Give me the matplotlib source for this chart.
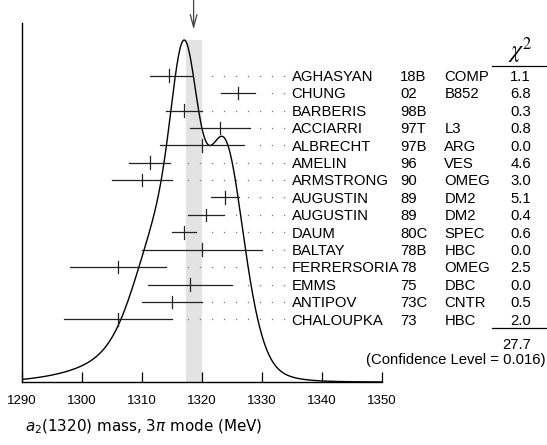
import numpy as np
import matplotlib.pyplot as plt

# a2(1320) mass, 3pi mode measurements
names = ['AGHASYAN', 'CHUNG', 'BARBERIS', 'ACCIARRI', 'ALBRECHT', 'AMELIN',
         'ARMSTRONG', 'AUGUSTIN', 'AUGUSTIN', 'DAUM', 'BALTAY', 'FERRERSORIA',
         'EMMS', 'ANTIPOV', 'CHALOUPKA']
years = ['18B', '02', '98B', '97T', '97B', '96', '90', '89', '89', '80C',
         '78B', '78', '75', '73C', '73']
exps = ['COMP', 'B852', '', 'L3', 'ARG', 'VES', 'OMEG', 'DM2', 'DM2', 'SPEC',
        'HBC', 'OMEG', 'DBC', 'CNTR', 'HBC']
mass = [1314.5, 1326.0, 1317.0, 1323.0, 1320.0, 1311.3, 1310.0, 1323.8,
        1320.6, 1317.0, 1320.0, 1306.0, 1318.0, 1315.0, 1306.0]
err_lo = [3.2, 2.8, 3.0, 5.0, 7.0, 3.4, 5.0, 2.3, 3.0, 2.0, 10.0, 8.0, 7.0, 5.0, 9.0]
err_hi = [3.9, 2.8, 3.0, 5.0, 7.0, 3.4, 5.0, 2.3, 3.0, 2.0, 10.0, 8.0, 7.0, 5.0, 9.0]
chi2 = ['1.1', '6.8', '0.3', '0.8', '0.0', '4.6', '3.0', '5.1', '0.4', '0.6',
        '0.0', '2.5', '0.0', '0.5', '2.0']
chi2_total = '27.7'
conf_level = '0.016'
avg, avg_err = 1318.6, 1.35

mass = np.array(mass)
err_lo = np.array(err_lo)
err_hi = np.array(err_hi)

# ideogram: each measurement a gaussian with area ~ 1/sigma
xs = np.linspace(1290, 1350, 1200)
ideo = np.zeros_like(xs)
for m, lo, hi in zip(mass, err_lo, err_hi):
    s = np.where(xs < m, lo, hi)
    ideo += np.exp(-0.5 * ((xs - m) / s) ** 2) / (0.5 * (lo + hi)) ** 2

W, H = 547, 445
fig = plt.figure(figsize=(W / 100, H / 100), dpi=100)
ax = fig.add_axes([22 / W, (H - 382) / H, 360 / W, 359 / H])
row_px = 17.4
ytop = 359 / row_px
ax.set_xlim(1290, 1350)
ax.set_ylim(0, ytop)
peak = (382 - 40) / row_px

ax.plot(xs, ideo / ideo.max() * peak, color='black', lw=1.0, zorder=3)
ax.fill_between([avg - avg_err, avg + avg_err], 0, peak, color='#e3e3e3', lw=0, zorder=1)

rows = (382 - 75.7) / row_px - np.arange(len(names))
for i, y in enumerate(rows):
    ax.plot([mass[i] - err_lo[i], mass[i] + err_hi[i]], [y, y], color='#222222', lw=0.9, zorder=4)
    ax.plot([mass[i], mass[i]], [y - 0.36, y + 0.36], color='#222222', lw=0.9, zorder=4)
    dots = np.arange(1317.7, 1334.5, 2.0)
    dots = dots[dots > mass[i] + err_hi[i] + 1.4]
    ax.plot(dots, np.full(len(dots), y), ls='none', marker='s', ms=0.9,
            color='#777777', mec='none', clip_on=False, zorder=2)
    tb = y - 5.35 / row_px
    kw = dict(va='baseline', fontsize=10.7, family='Liberation Sans', clip_on=False)
    ax.text(1334.95, tb, names[i], ha='left', **kw)
    ax.text(1353.0, tb, years[i], ha='left', **kw)
    ax.text(1360.4, tb, exps[i], ha='left', **kw)
    ax.text(1374.8, tb, chi2[i], ha='right', **kw)

kw = dict(va='baseline', fontsize=10.7, family='Liberation Sans', clip_on=False)
ax.text(1373.0, (382 - 58) / row_px, r'$\chi^2$', ha='center', fontsize=17,
        math_fontfamily='stix', va='baseline', clip_on=False)
ax.plot([1368.3, 1377.6], [(382 - 65.7) / row_px] * 2, color='black', lw=0.9, clip_on=False)
ax.plot([1368.3, 1377.6], [(382 - 328.3) / row_px] * 2, color='black', lw=0.9, clip_on=False)
ax.text(1374.8, (382 - 348.6) / row_px, chi2_total, ha='right', **kw)
ax.text(1377.3, (382 - 364) / row_px, '(Confidence Level = ' + conf_level + ')', ha='right', **kw)

# arrow marking the average
ax.annotate('', xy=(avg, (382 - 29.5) / row_px), xytext=(avg, (382 + 2) / row_px),
            arrowprops=dict(arrowstyle='->,head_length=0.9,head_width=0.24', mutation_scale=10,
                            shrinkA=0, shrinkB=0, color='#444444', lw=0.9),
            annotation_clip=False)

for side in ['top', 'right']:
    ax.spines[side].set_visible(False)
for side in ['left', 'bottom']:
    ax.spines[side].set_linewidth(1.0)
ax.set_xticks(np.arange(1290, 1351, 10))
ax.set_yticks([])
ax.tick_params(axis='x', direction='in', length=7.2, width=0.9, pad=9.5, labelsize=9.5)
for lab in ax.get_xticklabels():
    lab.set_family('Liberation Sans')

fig.text(25 / W, 1 - 431 / H, r'$a_2$(1320) mass, 3$\pi$ mode (MeV)', fontsize=10.9,
         family='DejaVu Sans', math_fontfamily='dejavusans', va='baseline', ha='left')

fig.savefig('out.png', dpi=100)
